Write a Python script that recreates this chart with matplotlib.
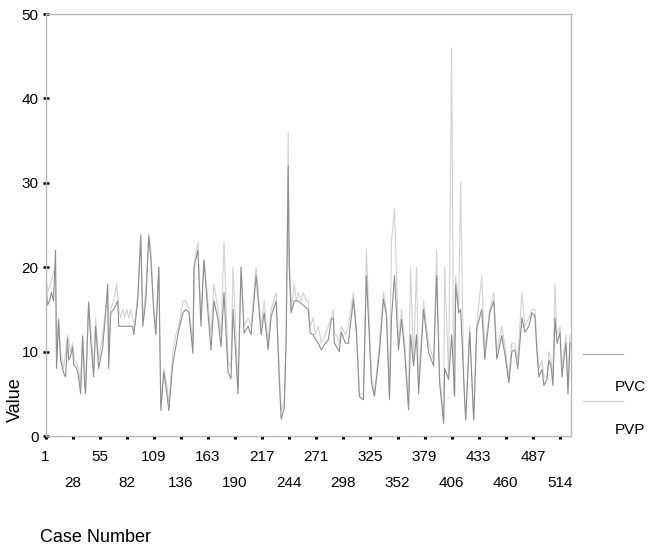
import matplotlib
matplotlib.use("Agg")
import matplotlib.pyplot as plt

plt.rcParams["font.family"] = ["Liberation Sans", "DejaVu Sans"]

# PVC series (darker line) as (case, value) vertices
pvc_case = [1, 3, 5, 7, 9, 11, 12, 14, 16, 19, 21, 23, 24, 26, 28, 29, 32, 34, 36, 38,
            40, 41, 44, 46, 49, 51, 54, 58, 61, 63, 64, 66, 69, 73, 74, 76, 80, 84, 88, 89,
            93, 96, 98, 101, 104, 106, 109, 111, 114, 116, 119, 122, 124, 128, 131, 134, 138, 141, 144, 148,
            149, 153, 156, 159, 163, 166, 169, 173, 176, 179, 183, 186, 188, 193, 196, 199, 203, 206, 211, 216,
            219, 223, 226, 231, 234, 236, 239, 241, 243, 244, 246, 249, 253, 258, 263, 265, 268, 270, 273, 276,
            280, 283, 286, 288, 289, 291, 294, 296, 300, 303, 308, 311, 314, 318, 321, 326, 329, 334, 338, 341,
            344, 346, 349, 353, 356, 359, 363, 365, 368, 371, 373, 378, 383, 388, 391, 394, 398, 399, 403, 406,
            409, 410, 413, 415, 418, 420, 424, 428, 431, 436, 439, 444, 448, 451, 456, 460, 463, 466, 469, 472,
            476, 479, 483, 486, 489, 491, 493, 496, 498, 501, 503, 505, 507, 509, 511, 514, 516, 518, 520, 522, 524]
pvc_val = [19, 15.5, 16, 17, 16, 22, 8, 13.8, 9, 7.5, 7, 11.5, 9, 9.5, 10.5, 8.5, 8, 7, 5, 11.8,
           6, 5, 15.8, 11.4, 7, 13, 8, 10.5, 14.6, 18, 8, 14.6, 15, 16, 13, 13, 13, 13, 13, 12,
           16, 23.7, 13, 16, 23.7, 21, 14.6, 12, 20, 3, 7.6, 5, 3, 8.6, 10.6, 12.6, 14.6, 15, 14.6, 9.8,
           20, 22, 13, 20.8, 14.6, 10.2, 16, 13.8, 10.6, 17, 7.6, 6.8, 15, 5, 20, 12.2, 13, 12, 19, 12,
           14.6, 10.2, 14.2, 16, 7, 2, 3.3, 11.4, 32, 20, 14.6, 16, 16, 15.5, 15, 12.2, 12, 11.5, 11, 10.2,
           11, 11.4, 13.8, 14, 11, 10.6, 10, 12.3, 11, 11, 16.2, 12.3, 4.7, 4.3, 19, 6.3, 4.7, 9.9, 16.2, 14.2,
           4.3, 14, 19, 10.2, 13.8, 10.2, 3.1, 12, 8.3, 12, 5, 15, 9.9, 8.3, 19, 6.3, 1.5, 8, 6.7, 12,
           4.7, 18, 14.6, 15, 6.7, 1.9, 12.3, 1.9, 12.7, 15, 9.1, 14.6, 16, 9.1, 11.9, 9, 6.3, 10, 10.2, 8,
           14, 12.3, 13, 14.6, 14.2, 10, 7, 7.9, 6, 6.7, 9, 8.3, 6, 14, 11, 12.3, 7, 9.1, 11, 5, 11]

# PVP series (lighter line)
pvp_case = [1, 3, 6, 8, 11, 12, 14, 16, 19, 23, 26, 28, 30, 34, 36, 38, 41, 44, 46, 49,
            51, 54, 58, 61, 63, 64, 66, 69, 72, 74, 76, 78, 80, 82, 84, 86, 88, 90, 93, 96,
            98, 101, 104, 106, 109, 111, 114, 116, 119, 122, 124, 128, 131, 134, 138, 141, 144, 148, 150, 153,
            156, 159, 163, 166, 169, 173, 176, 179, 183, 186, 188, 193, 196, 199, 203, 206, 211, 216, 219, 223,
            226, 231, 234, 236, 239, 241, 243, 244, 246, 249, 251, 253, 256, 258, 261, 263, 265, 268, 270, 273,
            276, 280, 283, 286, 288, 289, 291, 294, 296, 300, 303, 308, 311, 314, 318, 321, 326, 329, 334, 338,
            341, 344, 346, 349, 353, 356, 359, 363, 365, 368, 371, 373, 378, 383, 388, 391, 394, 398, 399, 403,
            406, 408, 410, 413, 415, 418, 420, 424, 428, 431, 436, 439, 444, 448, 451, 456, 460, 463, 466, 469,
            472, 476, 479, 483, 486, 489, 491, 493, 496, 498, 501, 503, 505, 507, 509, 511, 514, 516, 518, 520,
            522, 524]
pvp_val = [20, 17, 18, 19, 20, 9, 14, 10, 8, 12, 10, 11, 9, 8, 6, 12, 6, 16, 13, 8,
           14, 9, 12, 15, 17, 10, 15, 16, 18, 15, 14, 15, 14, 15, 14, 15, 14, 13, 17, 24,
           14, 17, 24, 22, 15, 13, 20, 4, 8, 6, 4, 10, 12, 13, 16, 16, 15, 11, 21, 23,
           14, 21, 16, 12, 18, 15, 12, 23, 9, 8, 20, 6, 20, 13, 14, 13, 20, 13, 16, 11,
           15, 17, 8, 3, 4, 12, 36, 21, 15, 18, 16, 17, 16, 17, 16, 16, 13, 14, 12, 13,
           11, 12, 13, 14, 15, 12, 12, 11, 13, 12, 13, 17, 13, 5, 5, 22, 7, 5, 11, 17,
           15, 5, 23, 27, 11, 15, 11, 4, 20, 9, 20, 6, 16, 11, 9, 22, 7, 2, 20, 7,
           46, 5, 19, 15, 30, 7, 2, 13, 2, 13, 19, 10, 15, 17, 10, 13, 10, 7, 11, 11,
           9, 17, 13, 14, 15, 15, 11, 8, 9, 7, 7, 10, 9, 7, 18, 12, 13, 8, 10, 12,
           6, 12]

xtick_row1 = [1, 55, 109, 163, 217, 271, 325, 379, 433, 487]
xtick_row2 = [28, 82, 136, 190, 244, 298, 352, 406, 460, 514]
yticks = [0, 10, 20, 30, 40, 50]

fig = plt.figure(figsize=(6.49, 5.46), dpi=100)
ax = fig.add_axes([45.5 / 649, 1 - 436 / 546, (571 - 45.5) / 649, (436 - 14) / 546])

ax.plot(pvp_case, pvp_val, color="#d2d2d2", lw=0.8, label="PVP")
ax.plot(pvc_case, pvc_val, color="#8e8e8e", lw=0.8, label="PVC")

ax.set_xlim(1, 525)
ax.set_ylim(0, 50)

for s in ax.spines.values():
    s.set_color("#b8b8b8")
    s.set_linewidth(1.0)

ax.set_yticks(yticks)
ax.tick_params(axis="y", direction="inout", length=4, width=1.8, color="black",
               labelsize=11, pad=3)
ax.set_xticks(xtick_row1)
ax.set_xticklabels([str(v) for v in xtick_row1])
ax.set_xticks(xtick_row2, minor=True)
ax.set_xticklabels([str(v) for v in xtick_row2], minor=True)
ax.tick_params(axis="x", which="major", direction="out", length=2, width=2.2,
               color="black", labelsize=11, pad=8)
ax.tick_params(axis="x", which="minor", direction="out", length=2, width=2.2,
               color="black", labelsize=11, pad=27)

fig.text(15 / 649, 1 - 400 / 546, "Value", rotation=90, ha="center", va="center", fontsize=13)
fig.text(40 / 649, 1 - 538 / 546, "Case Number", ha="left", va="center", fontsize=13)

# legend, drawn in figure coordinates like the original
fig.add_artist(plt.Line2D([583 / 649, 623 / 649], [1 - 354 / 546] * 2, color="#b4b4b4", lw=1.0))
fig.add_artist(plt.Line2D([583 / 649, 623 / 649], [1 - 401 / 546] * 2, color="#d2d2d2", lw=1.0))
fig.text(615 / 649, 1 - 387 / 546, "PVC", ha="left", va="center", fontsize=11)
fig.text(615 / 649, 1 - 430 / 546, "PVP", ha="left", va="center", fontsize=11)

fig.savefig("out.png", dpi=100)
